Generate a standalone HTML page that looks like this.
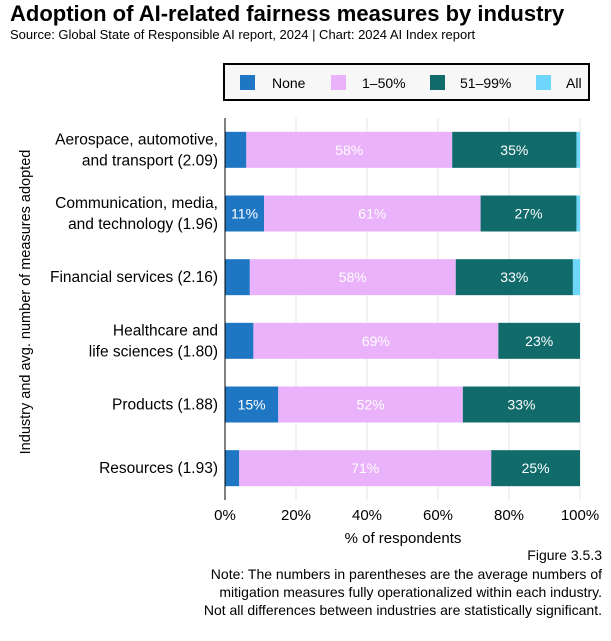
<!DOCTYPE html>
<html><head><meta charset="utf-8"><style>
body{margin:0;background:#fff;font-family:"Liberation Sans",sans-serif;}
svg text{font-family:"Liberation Sans",sans-serif;}
</style></head><body>
<svg width="611" height="636" xmlns="http://www.w3.org/2000/svg">
<text x="10" y="21" font-size="22" font-weight="bold" fill="#000">Adoption of AI-related fairness measures by industry</text>
<text x="10" y="39" font-size="13" fill="#000">Source: Global State of Responsible AI report, 2024 | Chart: 2024 AI Index report</text>
<g>
<rect x="224" y="64" width="365" height="36" fill="#f7f7f7" stroke="#000" stroke-width="2"/>
<rect x="240" y="75" width="15" height="15" fill="#1f77c4"/>
<text x="272" y="88" font-size="14">None</text>
<rect x="331" y="75" width="15" height="15" fill="#e9b2fa"/>
<text x="362" y="88" font-size="14">1–50%</text>
<rect x="430" y="75" width="15" height="15" fill="#116b6b"/>
<text x="460" y="88" font-size="14">51–99%</text>
<rect x="536" y="75" width="15" height="15" fill="#6fd6fb"/>
<text x="566" y="88" font-size="14">All</text>
</g>
<text transform="translate(30,302) rotate(-90)" text-anchor="middle" font-size="14.5">Industry and avg. number of measures adopted</text>
<g id="plot"></g>
<text x="403" y="543" text-anchor="middle" font-size="15">% of respondents</text>
<g font-size="14" text-anchor="end">
<text x="602" y="560">Figure 3.5.3</text>
<text x="602" y="579">Note: The numbers in parentheses are the average numbers of</text>
<text x="602" y="597">mitigation measures fully operationalized within each industry.</text>
<text x="602" y="615">Not all differences between industries are statistically significant.</text>
</g>
</svg>
<script>
const categories=[["Aerospace, automotive,","and transport (2.09)"],["Communication, media,","and technology (1.96)"],["Financial services (2.16)"],["Healthcare and","life sciences (1.80)"],["Products (1.88)"],["Resources (1.93)"]];
const noneVals=[6,11,7,8,15,4];
const lowVals=[58,61,58,69,52,71];
const highVals=[35,27,33,23,33,25];
const allVals=[1,1,2,0,0,0];
const ticks=[0,20,40,60,80,100];
const colors=["#1f77c4","#e9b2fa","#116b6b","#6fd6fb"];
const textCol=["#fff","#fff","#fff","#000"];
const x0=225,x1=580,yTop=118,yBottom=500;
const xs=v=>x0+(x1-x0)*v/100;
const bandH=(yBottom-yTop)/categories.length;
const ys=i=>yTop+bandH*i+bandH/2;
const NS="http://www.w3.org/2000/svg";
const g=document.getElementById('plot');
function mk(t,a){const e=document.createElementNS(NS,t);for(const k in a)e.setAttribute(k,a[k]);g.appendChild(e);return e;}
ticks.forEach(t=>{
 const l=mk('line',{x1:xs(t),x2:xs(t),y1:yTop,y2:yBottom,stroke:'#e6e6e6'});
 
 
 const tx=mk('text',{x:xs(t),y:520,'font-size':15,'text-anchor':'middle'});
 tx.textContent=t+'%';
 
 
});
const series=[noneVals,lowVals,highVals,allVals];
categories.forEach((c,i)=>{
 let cum=0;const y=ys(i);
 series.forEach((s,k)=>{
  const v=s[i];if(v<=0)return;
  const r=mk('rect',{x:xs(cum),y:y-18,width:xs(cum+v)-xs(cum),height:36,fill:colors[k]});
  
  
  if(v>=10){const t=mk('text',{x:(xs(cum)+xs(cum+v))/2,y:y+5,'font-size':14,'text-anchor':'middle',fill:textCol[k]});t.textContent=v+'%';
   
   }
  cum+=v;
 });
 c.forEach((line,j)=>{
  const t=mk('text',{x:218,y:y+5+(j-(c.length-1)/2)*21,'font-size':15.5,'text-anchor':'end'});
  t.textContent=line;
  
  
 });
});
const ax=mk('line',{x1:x0,x2:x0,y1:yTop,y2:yBottom,stroke:'#000','stroke-width':1});


</script>
</body></html>
